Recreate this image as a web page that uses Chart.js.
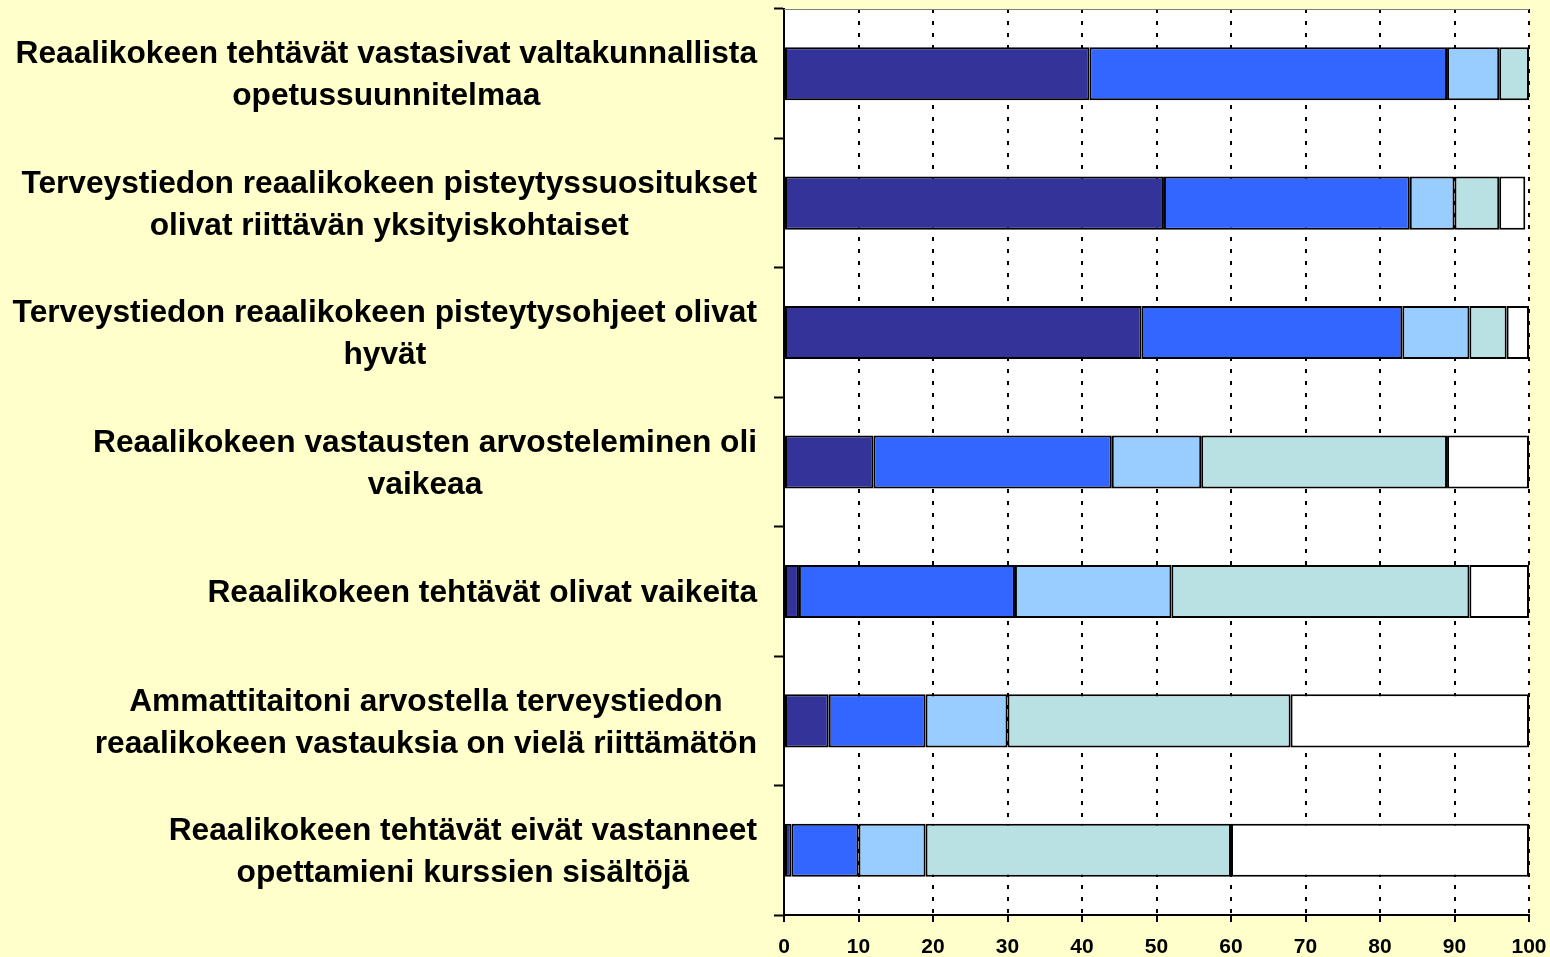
<!DOCTYPE html>
<html>
<head>
<meta charset="utf-8">
<script src="https://cdn.jsdelivr.net/npm/chart.js@4/dist/chart.umd.min.js"></script>
<style>
  html, body { margin: 0; padding: 0; background: #FFFFCC; }
  #wrap { width: 1550px; height: 957px; position: relative; }
</style>
</head>
<body>
<div id="wrap"><canvas id="c"></canvas></div>
<script>
const categories = [
  ["Reaalikokeen tehtävät vastasivat valtakunnallista", "opetussuunnitelmaa"],
  ["Terveystiedon reaalikokeen pisteytyssuositukset", "olivat riittävän yksityiskohtaiset"],
  ["Terveystiedon reaalikokeen pisteytysohjeet olivat", "hyvät"],
  ["Reaalikokeen vastausten arvosteleminen oli", "vaikeaa"],
  ["Reaalikokeen tehtävät olivat vaikeita"],
  ["Ammattitaitoni arvostella terveystiedon", "reaalikokeen vastauksia on vielä riittämätön"],
  ["Reaalikokeen tehtävät eivät vastanneet", "opettamieni kurssien sisältöjä"]
];
const seriesNames = ["Täysin samaa mieltä", "Jokseenkin samaa mieltä", "En osaa sanoa", "Jokseenkin eri mieltä", "Täysin eri mieltä"];
const series1 = [41, 51, 48, 12, 2, 6, 1];
const series2 = [48, 33, 35, 32, 29, 13, 9];
const series3 = [7, 6, 9, 12, 21, 11, 9];
const series4 = [4, 6, 5, 33, 40, 38, 41];
const series5 = [0, 3.5, 3, 11, 8, 32, 40];
const xTicks = [0, 10, 20, 30, 40, 50, 60, 70, 80, 90, 100];
const colors = ["#333399", "#3366FF", "#99CCFF", "#B9E0E2", "#FFFFFF"];

const allSeries = [series1, series2, series3, series4, series5];
const datasets = allSeries.map((d, i) => ({
  label: seriesNames[i],
  data: d,
  backgroundColor: colors[i],
  borderColor: "#000000",
  borderWidth: 2,
  borderSkipped: false,
  barPercentage: 0.41,
  categoryPercentage: 1.0
}));

const LABEL_FONT = "bold 31.7px 'Liberation Sans', Arial, sans-serif";

const bgPlugin = {
  id: "bgPlugin",
  beforeDraw(chart) {
    const { ctx, chartArea: a } = chart;
    ctx.save();
    ctx.fillStyle = "#FFFFCC";
    ctx.fillRect(0, 0, chart.width, chart.height);
    ctx.fillStyle = "#FFFFFF";
    ctx.fillRect(a.left, a.top, a.right - a.left, a.bottom - a.top);
    ctx.restore();
  },
  afterDraw(chart) {
    const { ctx, chartArea: a } = chart;
    const y = chart.scales.y;
    ctx.save();
    ctx.strokeStyle = "#808080";
    ctx.lineWidth = 1;
    ctx.beginPath();
    ctx.moveTo(a.left, a.top + 0.5);
    ctx.lineTo(a.right, a.top + 0.5);
    ctx.stroke();
    ctx.font = LABEL_FONT;
    ctx.fillStyle = "#000000";
    ctx.textAlign = "center";
    ctx.textBaseline = "middle";
    const rightEdge = 757;
    const lineH = 42;
    categories.forEach((lines, i) => {
      const cy = y.getPixelForValue(i) + 2;
      const maxW = Math.max(...lines.map(l => ctx.measureText(l).width));
      const cx = rightEdge - maxW / 2;
      const y0 = cy - (lines.length - 1) * lineH / 2;
      lines.forEach((l, j) => ctx.fillText(l, cx, y0 + j * lineH));
    });
    ctx.restore();
  }
};

new Chart(document.getElementById("c"), {
  type: "bar",
  data: { labels: categories.map(l => l.join(" ")), datasets },
  options: {
    indexAxis: "y",
    responsive: true,
    maintainAspectRatio: false,
    devicePixelRatio: 1,
    animation: false,
    layout: { padding: { top: 9, right: 21, left: 0, bottom: 0 } },
    plugins: { legend: { display: false }, tooltip: { enabled: false } },
    scales: {
      x: {
        stacked: true,
        min: 0,
        max: 100,
        afterBuildTicks: s => { s.ticks = xTicks.map(v => ({ value: v })); },
        afterFit: s => { s.height = 42; s.paddingLeft = 0; s.paddingRight = 0; },
        grid: {
          display: true,
          color: "#000000",
          lineWidth: 2,
          drawOnChartArea: true,
          drawTicks: true,
          tickLength: 7,
          tickColor: "#000000",
          tickWidth: 2,
          tickBorderDash: []
        },
        border: { display: true, color: "#000000", width: 2, dash: [4, 8] },
        ticks: {
          color: "#000000",
          padding: 13,
          font: { family: "'Liberation Sans', Arial, sans-serif", size: 21, weight: "bold" },
          maxRotation: 0,
          autoSkip: false
        }
      },
      y: {
        stacked: true,
        afterFit: s => { s.width = 784; },
        grid: {
          display: true,
          offset: true,
          drawOnChartArea: false,
          drawTicks: true,
          tickLength: 10,
          tickColor: "#000000",
          tickWidth: 2
        },
        border: { display: true, color: "#000000", width: 2 },
        ticks: { display: false }
      }
    }
  },
  plugins: [bgPlugin]
});
</script>
</body>
</html>
